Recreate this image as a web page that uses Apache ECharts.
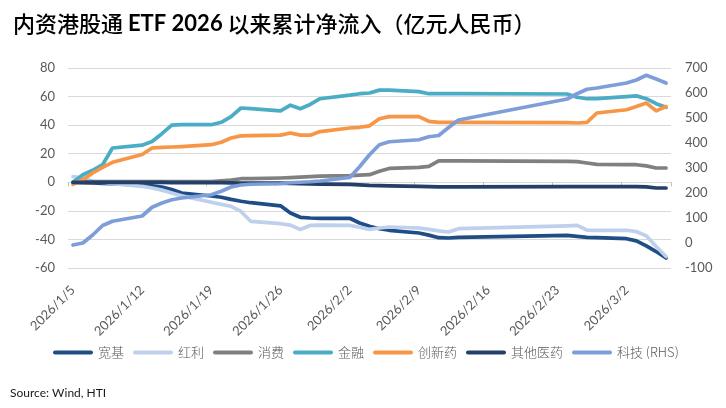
<!DOCTYPE html>
<html><head><meta charset="utf-8">
<script src="https://cdn.jsdelivr.net/npm/echarts@6/dist/echarts.min.js"></script>
<style>html,body{margin:0;padding:0;background:#fff}#c{width:726px;height:408px}</style>
</head><body><div id="c"></div>
<script>
// Trading days (Southbound closed 2/16-2/23 for Spring Festival)
const tradeDates = [
  '2026/1/5','2026/1/6','2026/1/7','2026/1/8','2026/1/9',
  '2026/1/12','2026/1/13','2026/1/14','2026/1/15','2026/1/16',
  '2026/1/19','2026/1/20','2026/1/21','2026/1/22','2026/1/23',
  '2026/1/26','2026/1/27','2026/1/28','2026/1/29','2026/1/30',
  '2026/2/2','2026/2/3','2026/2/4','2026/2/5','2026/2/6',
  '2026/2/9','2026/2/10','2026/2/11','2026/2/12','2026/2/13',
  '2026/2/24','2026/2/25','2026/2/26','2026/2/27',
  '2026/3/2','2026/3/3','2026/3/4','2026/3/5','2026/3/6'
];
const broadBase = [0,-0.3,-0.5,-0.8,-1, -2,-2.4,-3.3,-5,-7.5, -9.6,-10.5,-12,-13.3,-14.3, -16.5,-21.5,-24.5,-25,-25.2, -25.2,-28.5,-30.8,-32.5,-33.6, -35.5,-37,-38.8,-39,-38.5, -37.2,-37.8,-38.5,-38.7, -39.5,-41,-44.5,-48.5,-53];
const dividend = [4,3,0.7,0,-1, -2.8,-4,-5.5,-7.5,-9.5, -14,-15.5,-16.8,-20.4,-27.4, -29,-30,-33,-30.2,-30, -30.2,-31.5,-33,-32,-31.3, -32,-33,-34,-34.8,-32.5, -30.5,-30.2,-33.5,-33.6, -33.6,-34.5,-37.5,-45,-52];
const consumer = [0,0.3,0.5,0.5,0.5, 0.5,0.5,0.5,0.5,0.5, 0.5,1,1.5,2.5,2.5, 3,3.3,3.6,4,4.3, 4.6,5,5.3,7.7,9.7, 10.5,11.2,15,15,15, 14.6,14.5,13.5,12.5, 12.3,12.3,11.5,10,10];
const financial = [0,5.3,8.4,12.3,24, 26,28.5,34,40,40.3, 40.3,42,46,52,51.5, 50,54,51.5,54.5,58.5, 61,62,62.5,64.5,64.5, 63.5,62,62,62,62, 61.8,59.5,58.5,58.5, 60,60.5,58.5,55,52.5];
const innovDrug = [-1.5,1.8,6.5,10.5,14, 19.5,24,24.5,24.7,25, 26.3,28,31,32.5,32.7, 33,34.5,33,33,35.5, 38,38.5,39.5,44.5,46, 46,42.7,42,42,42, 41.7,41.5,42,48.5, 50.8,53,55.5,50,53];
const otherPharma = [0,0,0,0,0, 0,0,0,-0.2,-0.3, -0.3,-0.3,-0.4,-0.5,-0.5, -0.6,-0.8,-1,-1.2,-1.3, -1.5,-1.8,-2.2,-2.4,-2.5, -2.8,-3,-3.2,-3.2,-3.2, -3,-3,-3,-3, -3,-3,-3.2,-4,-4];
const tech = [-8,0,32,70,87, 108,143,160,173,180, 193,207,224,232,235, 237,241,243,245,248, 262,305,353,393,405, 413,425,430,462,492, 576,597,615,620, 640,652,671,656,640];

const seriesNames = ['宽基','红利','消费','金融','创新药','其他医药','科技 (RHS)'];
const seriesColors = ['#1F4E87','#BED0EC','#808080','#4BACC6','#F79646','#243F68','#7E9ED9'];
const seriesValues = [broadBase, dividend, consumer, financial, innovDrug, otherPharma, tech];

// calendar-day categories for a date axis (points centred in their day)
const calendar = [];
for (let t = new Date(2026,0,5); t <= new Date(2026,2,6); t.setDate(t.getDate()+1)) {
  calendar.push(t.getFullYear() + '/' + (t.getMonth()+1) + '/' + t.getDate());
}

const LAT = 'Lato, "Noto Sans", sans-serif';
const CJK = '"Noto Sans CJK SC", sans-serif';
const grey = '#595959';

const chart = echarts.init(document.getElementById('c'), null, {renderer:'canvas'});
chart.setOption({
  animation: false,
  backgroundColor: '#fff',
  title: [{
    text: '{a|内资港股通 }{b|ETF 2026}{a| 以来累计净流入（亿元人民币）}',
    left: 8, top: 8,
    textStyle: { rich: {
      a: { fontFamily: CJK, fontSize: 22, fontWeight: 500, color: '#000' },
      b: { fontFamily: LAT, fontSize: 22, fontWeight: 'bold', color: '#000' }
    }}
  },{
    text: 'Source: Wind, HTI', left: 5, top: 382,
    textStyle: { fontFamily: LAT, fontSize: 12, fontWeight: 'normal', color: '#1a1a1a' }
  }],
  legend: {
    data: seriesNames,
    left: 48, top: 341,
    itemWidth: 40, itemHeight: 4, itemGap: 9,
    icon: 'path://M2,0H38A2,2,0,0,1,38,4H2A2,2,0,0,1,2,0Z',
    textStyle: { fontFamily: CJK, fontSize: 13, color: grey, fontWeight: 300 }
  },
  grid: { left: 68, right: 55, top: 68, bottom: 140, containLabel: false, outerBoundsMode: 'none' },
  xAxis: [{
    type: 'category', data: calendar, boundaryGap: true, position: 'bottom',
    axisLine: { show: false, onZero: false }, axisTick: { show: false },
    axisLabel: { interval: 6, rotate: 45, margin: 20, color: grey, fontFamily: LAT, fontSize: 13 },
    splitLine: { show: false }
  },{
    type: 'category', data: calendar, boundaryGap: true, position: 'bottom',
    axisLine: { show: true, onZero: true, lineStyle: { color: '#D9D9D9', width: 1 } },
    axisTick: { show: true, interval: 6, length: 4, lineStyle: { color: '#BFBFBF' } },
    axisLabel: { show: false }, splitLine: { show: false }
  }],
  yAxis: [{
    type: 'value', min: -60, max: 80, interval: 20, position: 'left',
    axisLine: { show: false }, axisTick: { show: false },
    axisLabel: { margin: 13, color: grey, fontFamily: LAT, fontSize: 13 },
    splitLine: { show: true, lineStyle: { color: '#D9D9D9', width: 1 } }
  },{
    type: 'value', min: -100, max: 700, interval: 100, position: 'right',
    axisLine: { show: false }, axisTick: { show: false },
    axisLabel: { margin: 14, color: grey, fontFamily: LAT, fontSize: 13 },
    splitLine: { show: false }
  }],
  series: seriesNames.map((name, k) => ({
    name, type: 'line', xAxisIndex: 0, yAxisIndex: k === 6 ? 1 : 0,
    data: tradeDates.map((d, i) => [d, seriesValues[k][i]]),
    symbol: 'none', smooth: false, z: 2 + k,
    itemStyle: { color: seriesColors[k] },
    lineStyle: { color: seriesColors[k], width: 3.7, cap: 'round', join: 'round' }
  }))
});
</script></body></html>
